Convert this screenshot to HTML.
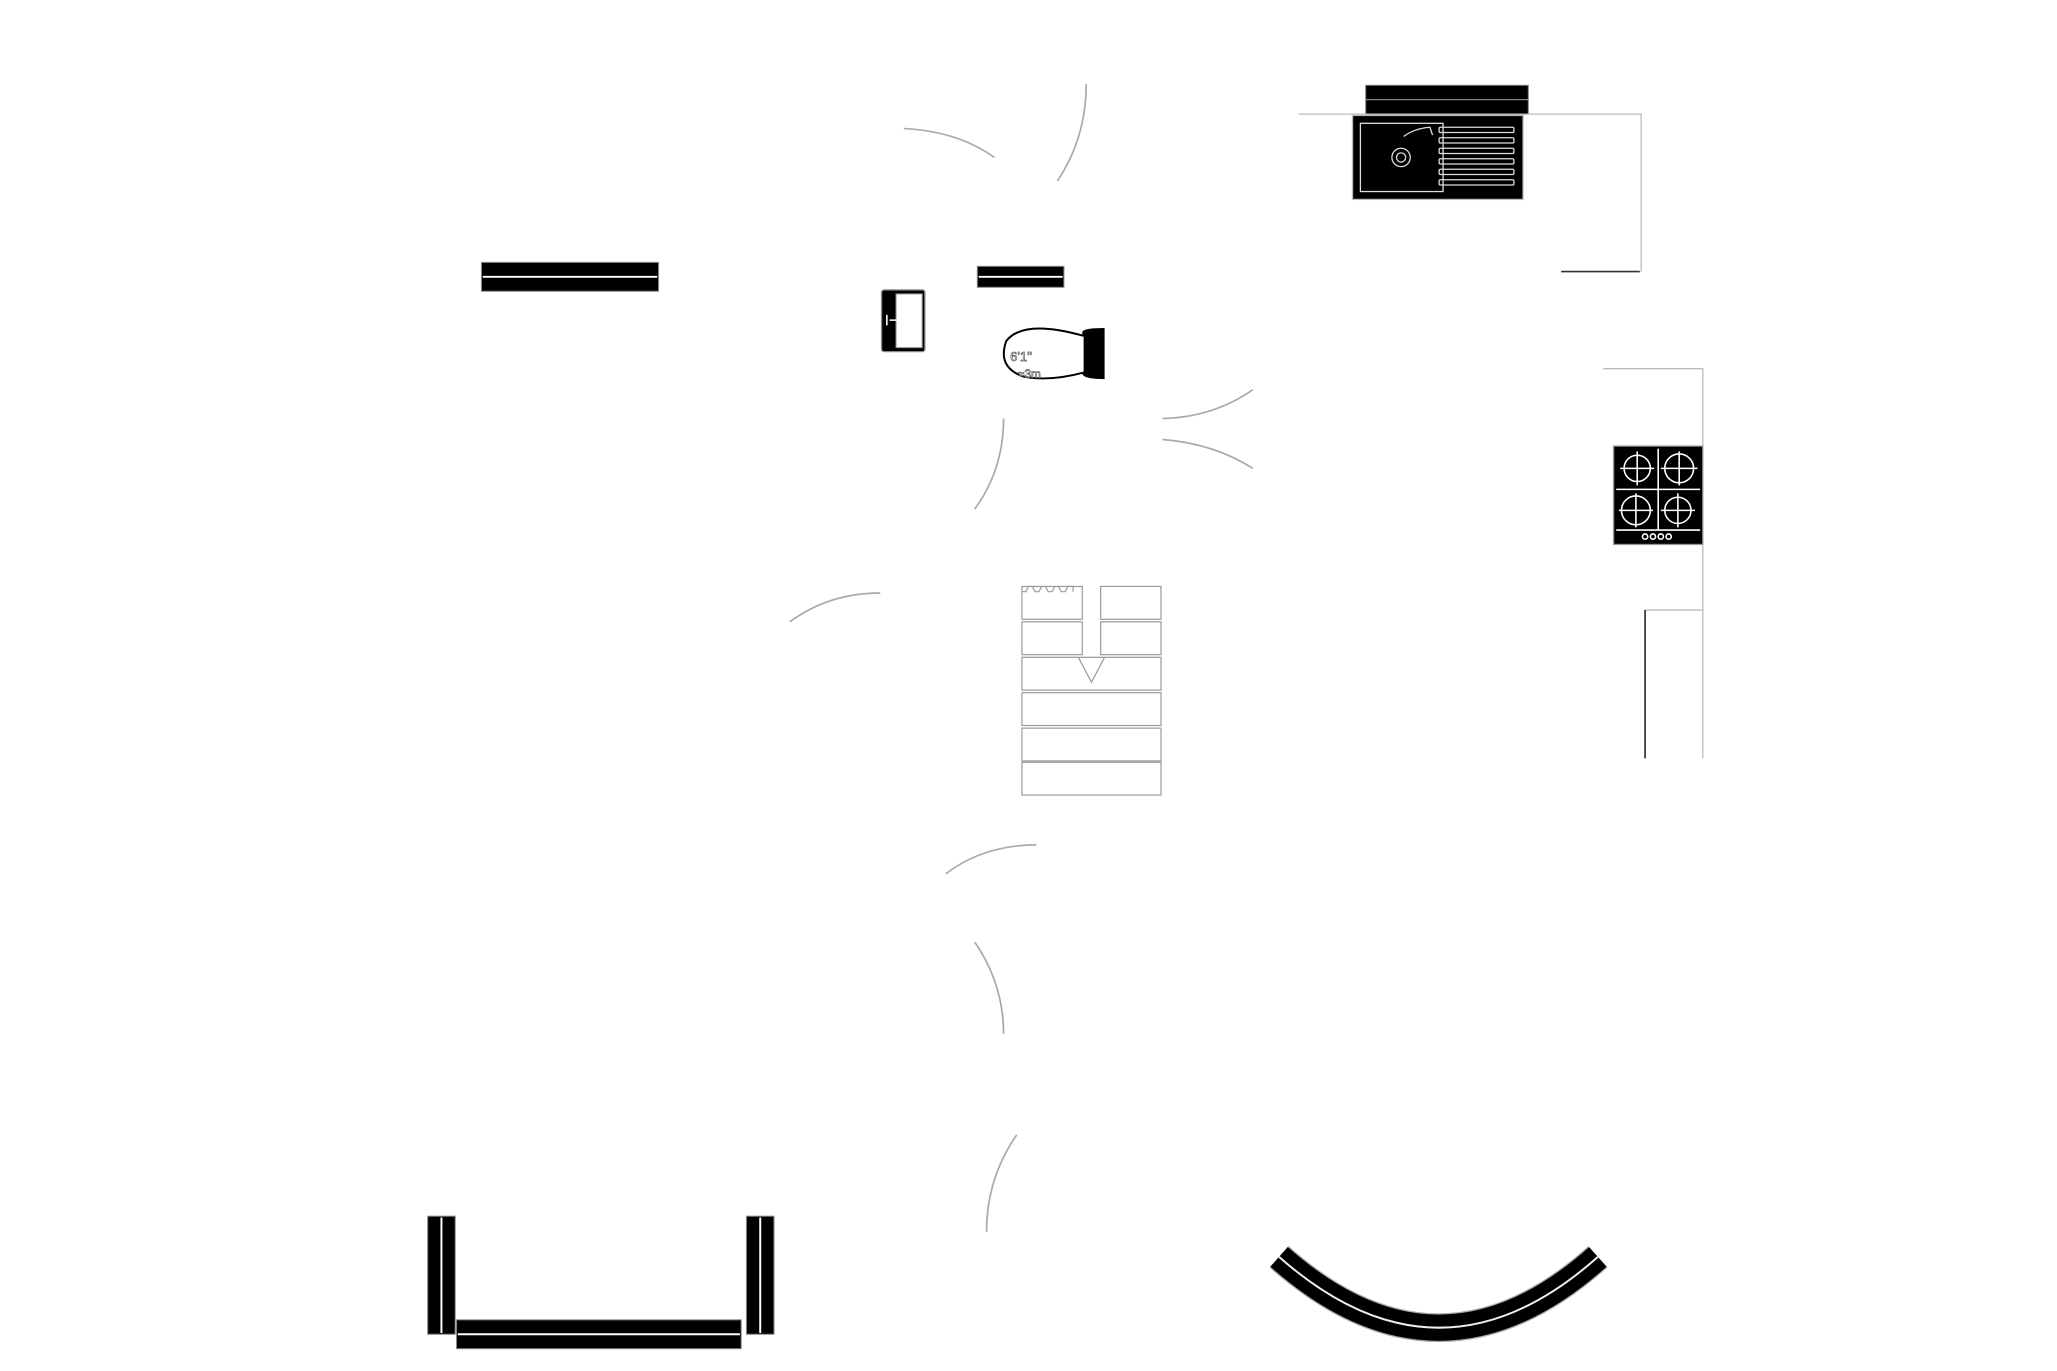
<!DOCTYPE html>
<html><head><meta charset="utf-8"><style>html,body{margin:0;padding:0;background:#fff}svg{display:block}</style></head>
<body>
<svg width="2057" height="1371" viewBox="0 0 1568 1045" preserveAspectRatio="none" xmlns="http://www.w3.org/2000/svg">
<g fill="none" stroke="#aaa" stroke-width="1.3">
<path d="M689,98 Q730,100 758,120"/>
<path d="M828,64 Q828,105 806,138"/>
<path d="M886,319 Q925,318 955,297"/>
<path d="M886,335 Q925,338 955,357"/>
<path d="M765,319 Q765,358 743,388"/>
<path d="M671,452 Q632,452 602,474"/>
<path d="M790,644 Q750,644 721,666"/>
<path d="M743,718 Q765,750 765,788"/>
<path d="M775,865 Q752,898 752,939"/>
</g>
<g stroke="#888" stroke-width="0.8">
<rect x="367" y="200" width="135" height="22" fill="#000"/>
<rect x="745" y="203" width="66" height="16" fill="#000"/>
<rect x="1041" y="65" width="124" height="11" fill="#000"/>
<rect x="1041" y="76" width="124" height="11" fill="#000"/>
</g>
<line x1="368" y1="211" x2="501" y2="211" stroke="#fff" stroke-width="1.5"/>
<line x1="746" y1="211" x2="810" y2="211" stroke="#fff" stroke-width="1.5"/>
<g fill="none" stroke="#bbb" stroke-width="1">
<path d="M990,87 H1251 V207"/>
<path d="M1222,281 H1298 V465 H1254"/>
<path d="M1298,465 V578"/>
</g>
<line x1="1190" y1="207" x2="1250" y2="207" stroke="#333" stroke-width="1.2"/>
<line x1="1254" y1="465" x2="1254" y2="578" stroke="#222" stroke-width="1.2"/>
<rect x="1031" y="88" width="130" height="64" fill="#000" stroke="#bbb" stroke-width="1"/>
<g fill="none" stroke="#ddd" stroke-width="1">
<rect x="1037" y="94" width="63" height="52"/>
<circle cx="1068" cy="120" r="7"/><circle cx="1068" cy="120" r="3.5"/>
<path d="M1070,104 Q1078,98 1090,97 L1092,103"/>
<rect x="1097" y="97" width="57" height="4" rx="1"/>
<rect x="1097" y="105" width="57" height="4" rx="1"/>
<rect x="1097" y="113" width="57" height="4" rx="1"/>
<rect x="1097" y="121" width="57" height="4" rx="1"/>
<rect x="1097" y="129" width="57" height="4" rx="1"/>
<rect x="1097" y="137" width="57" height="4" rx="1"/>
</g>
<rect x="1230" y="340" width="68" height="75" fill="#000" stroke="#999" stroke-width="1"/>
<g fill="none" stroke="#fff" stroke-width="1.2">
<line x1="1264" y1="342" x2="1264" y2="404"/><line x1="1232" y1="373" x2="1296" y2="373"/>
<line x1="1232" y1="404" x2="1296" y2="404"/>
<circle cx="1248" cy="357" r="10"/><circle cx="1280" cy="357" r="11"/>
<circle cx="1247" cy="389" r="11"/><circle cx="1279" cy="389" r="10"/>
<path d="M1248,344v26M1235,357h26M1280,344v26M1266,357h28M1247,376v26M1234,389h26M1279,376v26M1266,389h26"/>
<circle cx="1254" cy="409" r="2"/><circle cx="1260" cy="409" r="2"/><circle cx="1266" cy="409" r="2"/><circle cx="1272" cy="409" r="2"/>
</g>
<rect x="672" y="221" width="33" height="47" rx="2" fill="#000" stroke="#888"/>
<rect x="683" y="224" width="20" height="41" fill="#fff" stroke="#888" stroke-width="0.8"/>
<path d="M676,240 v8 M678,244 h6" stroke="#fff" stroke-width="1.2"/>
<path d="M825,253 Q826,250 842,250 V289 Q826,289 825,285 Z" fill="#000"/>
<path d="M826,256 Q780,243 767,260 Q760,280 780,287 Q800,291 826,284" fill="#fff" stroke="#000" stroke-width="1.5"/>
<text x="770" y="275" font-family="Liberation Sans, sans-serif" font-size="10" fill="#fff" stroke="#555" stroke-width="0.5">6'1"</text>
<text x="776" y="288" font-family="Liberation Sans, sans-serif" font-size="9" fill="#fff" stroke="#555" stroke-width="0.5">≈3m</text>
<g fill="#fff" stroke="#999" stroke-width="0.9">
<rect x="779" y="447" width="46" height="25"/><rect x="839" y="447" width="46" height="25"/>
<rect x="779" y="474" width="46" height="25"/><rect x="839" y="474" width="46" height="25"/>
<rect x="779" y="501" width="106" height="25"/>
<rect x="779" y="528" width="106" height="25"/>
<rect x="779" y="555" width="106" height="25"/>
<rect x="779" y="581" width="106" height="25"/>
<path d="M822,501 L832,520 L842,501" fill="none"/>
<path d="M779,451 h3 l2,-4 h3 l2,4 h3 l2,-4 h3 l2,4 h3 l2,-4 h3 l2,4 h3 l2,-4 h4 v4" fill="none"/>
</g>
<g stroke="#888" stroke-width="0.8" fill="#000">
<rect x="326" y="927" width="21" height="90"/>
<rect x="569" y="927" width="21" height="90"/>
<rect x="348" y="1006" width="217" height="22"/>
</g>
<path d="M336.5,928V1016 M579.5,928V1016 M349,1017H564" stroke="#fff" stroke-width="1.5"/>
<path d="M975,958 Q1097,1066 1218,958" fill="none" stroke="#aaa" stroke-width="22"/>
<path d="M975,958 Q1097,1066 1218,958" fill="none" stroke="#000" stroke-width="20"/>
<path d="M975,958 Q1097,1066 1218,958" fill="none" stroke="#eee" stroke-width="1.5"/>
</svg>
</body></html>
